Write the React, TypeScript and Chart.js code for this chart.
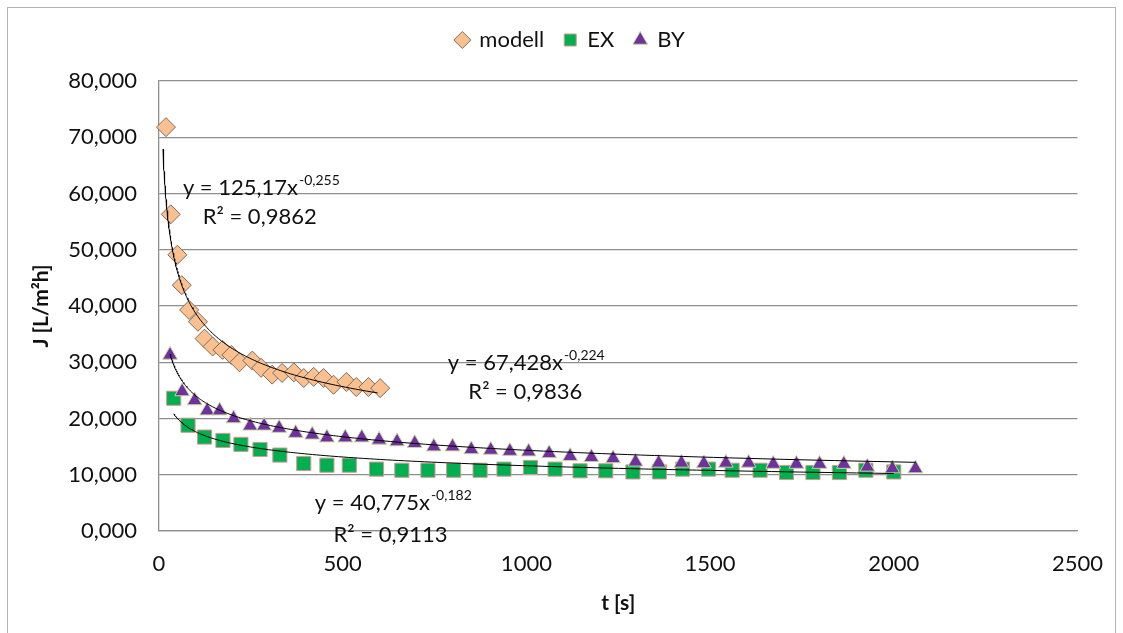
import { useEffect, useRef } from 'react';
import { Chart, registerables } from 'chart.js';

Chart.register(...registerables);

// ---- data (t in s, J in L/m²h) ----
const modellT = [19, 32, 50, 62, 82, 106, 124, 146, 173, 197, 219, 254, 278, 308, 335, 367, 394, 421, 448, 475, 510, 537, 570, 602];
const modellJ = [71.8, 56.3, 49.1, 43.7, 39.3, 37.2, 34.2, 32.8, 32.2, 31.3, 30.0, 30.3, 29.0, 27.8, 28.1, 28.2, 27.2, 27.4, 27.2, 26.0, 26.5, 25.6, 25.6, 25.4];

const exT = [40, 79, 124, 174, 223, 275, 329, 394, 457, 518, 592, 661, 732, 802, 874, 939, 1011, 1078, 1146, 1216, 1290, 1362, 1425, 1496, 1560, 1636, 1708, 1780, 1852, 1924, 2000];
const exJ = [23.6, 18.8, 16.7, 16.1, 15.4, 14.5, 13.5, 12.0, 11.7, 11.7, 11.0, 10.8, 10.8, 10.8, 10.8, 11.0, 11.3, 11.0, 10.7, 10.7, 10.5, 10.5, 11.0, 11.0, 10.8, 10.8, 10.4, 10.4, 10.4, 10.8, 10.5];

const byT = [30, 63, 97, 131, 165, 203, 248, 286, 327, 372, 417, 457, 507, 552, 599, 648, 696, 748, 799, 850, 903, 955, 1006, 1062, 1119, 1177, 1236, 1297, 1360, 1422, 1483, 1543, 1605, 1672, 1735, 1798, 1864, 1928, 1996, 2059];
const byJ = [31.3, 24.8, 23.2, 21.4, 21.4, 20.0, 18.7, 18.7, 18.3, 17.4, 17.1, 16.6, 16.6, 16.6, 16.2, 15.9, 15.6, 15.0, 15.0, 14.5, 14.4, 14.2, 14.1, 13.8, 13.3, 13.1, 12.9, 12.3, 12.1, 12.1, 12.0, 12.1, 12.1, 11.9, 11.9, 11.9, 11.9, 11.4, 11.1, 11.1];

// power trendlines y = a * x^b (from the chart's equations)
const trendNames = ['modell', 'EX', 'BY'];
const trendA = [125.17, 40.775, 67.428];
const trendB = [-0.255, -0.182, -0.224];
const trendFrom = [11, 40, 30];
const trendTo = [595, 2000, 2059];

// equation labels
const eqMain = ['y = 125,17x', 'y = 40,775x', 'y = 67,428x'];
const eqExp = ['-0,255', '-0,182', '-0,224'];
const r2Text = ['R² = 0,9862', 'R² = 0,9113', 'R² = 0,9836'];
const eqAt = [[65, 61.0], [424, 5.0], [786, 29.9]];
const r2At = [[119, 55.8], [475, -0.7], [842, 24.7]];

const xTicks = [0, 500, 1000, 1500, 2000, 2500];
const yTicks = [0, 10, 20, 30, 40, 50, 60, 70, 80];

const FONT = 'Lato';
const TEXT = '#111111';

function zip(xs: number[], ys: number[]) {
  return xs.map((x, i) => ({ x, y: ys[i] }));
}

function trendPoints(i: number) {
  const pts: { x: number; y: number }[] = [];
  const n = 150;
  const x0 = trendFrom[i];
  const x1 = trendTo[i];
  for (let k = 0; k <= n; k++) {
    const x = x0 * Math.pow(x1 / x0, k / n);
    pts.push({ x, y: trendA[i] * Math.pow(x, trendB[i]) });
  }
  return pts;
}

const frame = {
  id: 'frame',
  beforeDraw(chart: any) {
    const { ctx } = chart;
    ctx.save();
    ctx.strokeStyle = '#b5b5b5';
    ctx.lineWidth = 1;
    ctx.strokeRect(7.5, 7.5, 1108, 640);
    ctx.restore();
  },
};

const legendShift = {
  id: 'legendShift',
  afterLayout(chart: any) {
    const l = chart.legend;
    if (l) {
      l.left += 28;
      l.right += 28;
    }
  },
};

const annot = {
  id: 'annot',
  afterDatasetsDraw(chart: any) {
    const { ctx } = chart;
    const x = chart.scales.x;
    const y = chart.scales.y;
    ctx.save();
    ctx.fillStyle = TEXT;
    ctx.textBaseline = 'middle';
    ctx.textAlign = 'left';
    for (let i = 0; i < eqMain.length; i++) {
      const px = x.getPixelForValue(eqAt[i][0]);
      const py = y.getPixelForValue(eqAt[i][1]);
      ctx.font = `22px ${FONT}`;
      ctx.fillText(eqMain[i], px, py);
      const w = ctx.measureText(eqMain[i]).width;
      ctx.font = `14px ${FONT}`;
      ctx.fillText(eqExp[i], px + w + 1, py - 7);
      ctx.font = `22px ${FONT}`;
      ctx.fillText(r2Text[i], x.getPixelForValue(r2At[i][0]), y.getPixelForValue(r2At[i][1]));
    }
    ctx.restore();
  },
};

export default function App() {
  const ref = useRef<HTMLCanvasElement | null>(null);

  useEffect(() => {
    if (!ref.current) return;
    const gridColor = '#8e8e8e';
    const chart = new Chart(ref.current, {
      type: 'scatter',
      data: {
        datasets: [
          {
            label: 'modell',
            data: zip(modellT, modellJ),
            pointStyle: 'rectRot',
            pointRadius: 9.5,
            backgroundColor: '#FAC090',
            borderColor: '#7d6b5c',
            borderWidth: 1,
            order: 2,
            clip: false,
          },
          {
            label: 'EX',
            data: zip(exT, exJ),
            pointStyle: 'rect',
            pointRadius: 10,
            backgroundColor: '#00B050',
            borderColor: '#D99694',
            borderWidth: 1,
            order: 2,
            clip: false,
          },
          {
            label: 'BY',
            data: zip(byT, byJ),
            pointStyle: 'triangle',
            pointRadius: 8.5,
            backgroundColor: '#7030A0',
            borderColor: '#C3D69B',
            borderWidth: 1,
            order: 1,
            clip: false,
          },
          ...trendNames.map((n, i) => ({
            label: 'trend ' + n,
            data: trendPoints(i),
            showLine: true,
            pointRadius: 0,
            borderColor: '#000000',
            borderWidth: 1,
            backgroundColor: '#000000',
            order: 0,
            clip: false,
          })),
        ],
      } as any,
      options: {
        animation: false,
        responsive: false,
        events: [],
        layout: { padding: { top: 9, left: 0, right: 38, bottom: 0 } },
        plugins: {
          tooltip: { enabled: false },
          subtitle: {
            display: true,
            text: '',
            position: 'top',
            weight: 500,
            font: { size: 10, lineHeight: 1 },
            padding: { top: 0, bottom: 10 },
          } as any,
          legend: {
            display: true,
            position: 'top',
            labels: {
              usePointStyle: true,
              boxWidth: 12,
              boxHeight: 12,
              padding: 20,
              color: TEXT,
              font: { family: FONT, size: 22 },
              filter: (item: any) => !String(item.text).startsWith('trend'),
              sort: (a: any, b: any) => a.datasetIndex - b.datasetIndex,
            },
          },
        },
        scales: {
          x: {
            type: 'linear',
            min: 0,
            max: 2500,
            afterFit: (s: any) => {
              s.height = 102;
            },
            afterBuildTicks: (s: any) => {
              s.ticks = xTicks.map((v) => ({ value: v }));
            },
            ticks: {
              padding: 20,
              color: TEXT,
              font: { family: FONT, size: 22 },
              callback: (v: any) => String(v),
            },
            grid: { display: false, drawTicks: false },
            border: { display: true, color: gridColor, width: 1.3 },
            title: {
              display: true,
              text: 't [s]',
              color: TEXT,
              font: { family: FONT, size: 21, weight: 'bold' },
              padding: { top: 0, bottom: 17 },
            },
          },
          y: {
            type: 'linear',
            min: 0,
            max: 80,
            afterFit: (s: any) => {
              s.width = 159;
            },
            afterBuildTicks: (s: any) => {
              s.ticks = yTicks.map((v) => ({ value: v }));
            },
            ticks: {
              padding: 22,
              color: TEXT,
              font: { family: FONT, size: 22 },
              callback: (v: any) => Number(v).toFixed(3).replace('.', ','),
            },
            grid: { color: gridColor, lineWidth: 1.3, drawTicks: false },
            border: { display: true, color: gridColor, width: 1.3 },
            title: {
              display: true,
              text: 'J [L/m²h]',
              color: TEXT,
              font: { family: FONT, size: 21, weight: 'bold' },
              padding: { top: 29, bottom: 0 },
            },
          },
        },
      } as any,
      plugins: [frame, legendShift, annot],
    });
    return () => chart.destroy();
  }, []);

  return (
    <div style={{ position: 'absolute', left: 0, top: 0, width: 1123, height: 633, background: '#fff' }}>
      <canvas ref={ref} width={1123} height={633} style={{ display: 'block' }} />
    </div>
  );
}
